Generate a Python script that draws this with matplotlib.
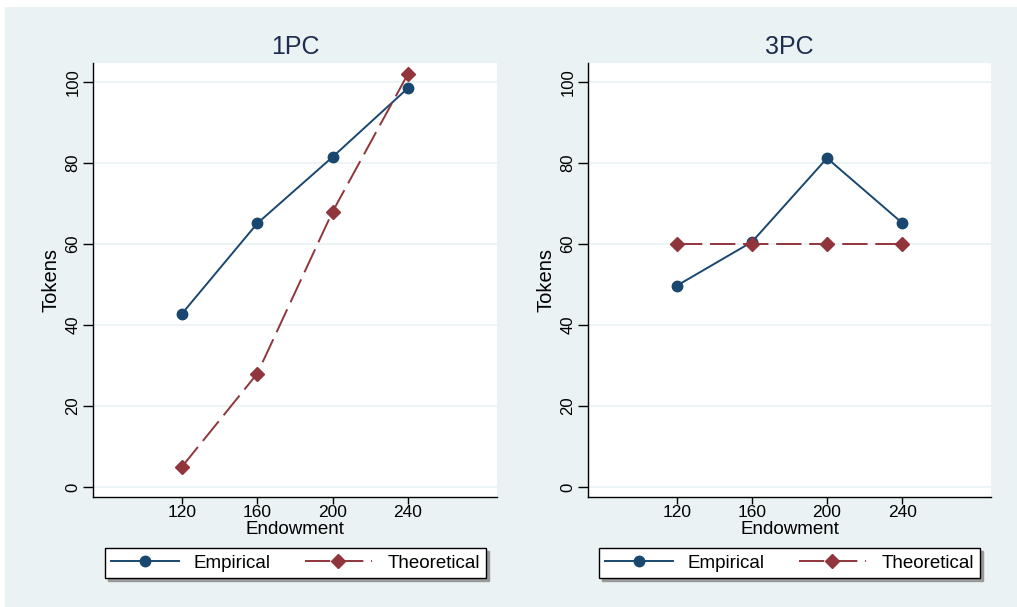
import matplotlib
matplotlib.use("Agg")
import matplotlib.pyplot as plt
from matplotlib.patches import Rectangle

plt.rcParams['font.family'] = ['Liberation Sans', 'DejaVu Sans']

endowment = [120, 160, 200, 240]
pc1_empirical = [42.8, 65.1, 81.5, 98.5]
pc1_theoretical = [5, 28, 68, 102]
pc3_empirical = [49.7, 60.5, 81.2, 65.2]
pc3_theoretical = [60, 60, 60, 60]
panel_titles = ["1PC", "3PC"]
yticks = [0, 20, 40, 60, 80, 100]

BG = '#EAF2F3'
BLUE = '#1a476f'
RED = '#90353b'
TITLE_C = '#1e2d4f'

W, H = 1017, 607
fig = plt.figure(figsize=(W / 100, H / 100), dpi=100, facecolor='white')
fig.patches.append(Rectangle((5 / W, 0), 1 - 5 / W, (H - 7) / H,
                             transform=fig.transFigure, facecolor=BG,
                             edgecolor='none', zorder=-10))

def px(x0, y0, x1, y1):
    return [x0 / W, (H - y1) / H, (x1 - x0) / W, (y1 - y0) / H]

panels = [
    (px(93, 63, 497, 497), pc1_empirical, pc1_theoretical, panel_titles[0], 101, 490),
    (px(588, 63, 991, 497), pc3_empirical, pc3_theoretical, panel_titles[1], 595, 984),
]

for rect, emp, theo, title, lx0, lx1 in panels:
    ax = fig.add_axes(rect)
    ax.set_facecolor('white')
    l1, = ax.plot(endowment, emp, color=BLUE, lw=1.4, marker='o', ms=7.5,
                  markeredgecolor=BLUE, label='Empirical', zorder=3)
    l2, = ax.plot(endowment, theo, color=RED, lw=1.4, marker='D', ms=7,
                  markeredgecolor=RED, ls=(0, (13, 4)), label='Theoretical', zorder=3)
    ax.set_xlim(72.7, 287.3)
    ax.set_ylim(-2.5, 104.7)
    ax.set_xticks(endowment)
    ax.set_yticks(yticks)
    ax.grid(axis='y', color=BG, lw=1.2, zorder=0)
    ax.set_axisbelow(True)
    for s in ['top', 'right']:
        ax.spines[s].set_visible(False)
    for s in ['left', 'bottom']:
        ax.spines[s].set_color('black')
        ax.spines[s].set_linewidth(1.0)
    ax.tick_params(axis='x', length=5, width=1, labelsize=12.5, pad=1, colors='black')
    ax.tick_params(axis='y', length=7, width=1, labelsize=12, pad=2, colors='black')
    for lab in ax.get_yticklabels():
        lab.set_rotation(90)
        lab.set_va('center')
    ax.set_xlabel('Endowment', fontsize=13.5)
    ax.xaxis.label.set_va('center')
    ax.xaxis.set_label_coords(0.5, (497 - 529) / 434)
    ax.set_ylabel('Tokens', fontsize=14.5)
    ax.yaxis.label.set_va('center')
    ax.yaxis.set_label_coords(-42 / 404, 0.5)
    cx = (rect[0] + rect[2] / 2)
    fig.text(cx, (H - 47) / H, title, ha='center', va='center',
             fontsize=18, color=TITLE_C)
    lcx = (lx0 + lx1) / 2 / W
    lcy = (H - 563) / H
    leg = ax.legend(handles=[l1, l2], loc='center', bbox_to_anchor=(lcx, lcy),
                    bbox_transform=fig.transFigure, ncol=2, fontsize=13.5,
                    frameon=True, fancybox=False, edgecolor='black',
                    handlelength=3.6, handletextpad=0.8, columnspacing=1.8,
                    borderpad=0.35, shadow={'color': '#9a9a9a', 'alpha': 1})
    leg.get_frame().set_linewidth(1.0)
    leg.get_frame().set_facecolor('white')

fig.savefig('out.png', dpi=100, facecolor=fig.get_facecolor())
